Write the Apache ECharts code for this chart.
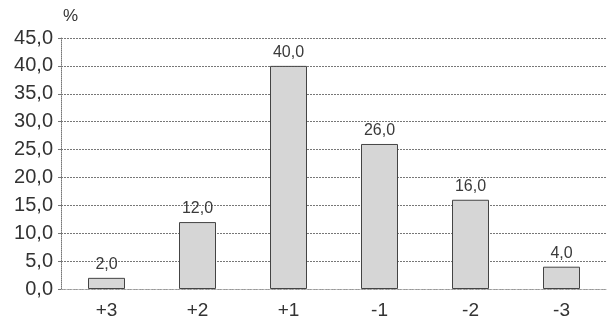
<!DOCTYPE html>
<html>
<head>
<meta charset="utf-8">
<script src="https://cdn.jsdelivr.net/npm/echarts@6/dist/echarts.min.js"></script>
<style>
  html, body { margin: 0; padding: 0; background: #fff; }
  #chart { width: 607px; height: 321px; }
</style>
</head>
<body>
<div id="chart"></div>
<script>
// Score categories and their share in percent
const categories = ['+3', '+2', '+1', '-1', '-2', '-3'];
const shares = [2.0, 12.0, 40.0, 26.0, 16.0, 4.0];

const fmt = v => v.toFixed(1).replace('.', ',');
const FONT = 'Liberation Sans, Arial, sans-serif';

const chart = echarts.init(document.getElementById('chart'), null, { renderer: 'canvas' });

chart.setOption({
  backgroundColor: '#ffffff',
  animation: false,
  textStyle: { fontFamily: FONT },
  graphic: [{
    type: 'text',
    left: 63,
    top: 8,
    style: { text: '%', fontSize: 17, fill: '#333', fontFamily: FONT }
  }],
  grid: { left: 61, right: -2, top: 38, bottom: 32, containLabel: false },
  xAxis: {
    type: 'category',
    data: categories,
    axisLine: { show: true, lineStyle: { color: '#aaa', type: 'dotted', width: 1 } },
    axisTick: { show: false },
    axisLabel: { fontSize: 19, color: '#333', margin: 12 }
  },
  yAxis: {
    type: 'value',
    min: 0, max: 45, interval: 5,
    axisLine: { show: true, lineStyle: { color: '#777', type: 'dotted', width: 1 } },
    axisTick: { show: true, inside: false, length: 3, lineStyle: { color: '#777' } },
    axisLabel: { fontSize: 20, color: '#333', margin: 8, formatter: v => fmt(v) },
    splitLine: { show: true, lineStyle: { color: '#777', type: [2, 1], width: 1 } }
  },
  series: [{
    type: 'bar',
    data: shares,
    barWidth: 37,
    itemStyle: { color: '#d6d6d6', borderColor: '#444', borderWidth: 1 },
    label: {
      show: true,
      position: 'top',
      distance: 5,
      fontSize: 16,
      color: '#3a3a3a',
      formatter: p => fmt(p.value)
    }
  }]
});
</script>
</body>
</html>
